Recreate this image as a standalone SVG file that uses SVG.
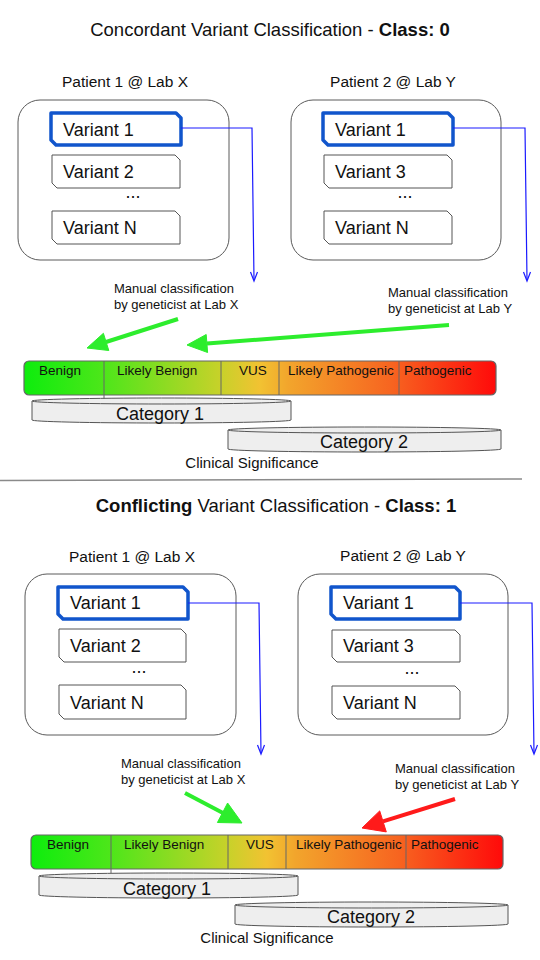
<svg xmlns="http://www.w3.org/2000/svg" width="540" height="960" viewBox="0 0 540 960">
<defs>
<style>
text{font-family:"Liberation Sans",Arial,sans-serif;fill:#111}
.title{font-size:18.5px}
.pat{font-size:15.5px}
.var{font-size:18px}
.man{font-size:13px}
.cls{font-size:13.5px}
.cat{font-size:18px}
.sig{font-size:15px}
.pbox{fill:#fff;stroke:#5a5a5a;stroke-width:1}
.vbox{fill:#fff;stroke:#555;stroke-width:1}
.vsel{fill:#fff;stroke:#1155cc;stroke-width:3.5;stroke-linejoin:round}
.blue{fill:none;stroke:#1a1aff;stroke-width:1.2}
.bar{stroke:#666;stroke-width:1.2}
.div{stroke:#666;stroke-width:1}
.cyl{fill:#eeeeee;stroke:#555;stroke-width:1}
.g{fill:#2ded2d;stroke:#2ded2d}
.r{fill:#ff1a1a;stroke:#ff1a1a}
</style>
<linearGradient id="grad" x1="0" y1="0" x2="1" y2="0">
<stop offset="0" stop-color="#0ded0d"/>
<stop offset="0.17" stop-color="#4ee61a"/>
<stop offset="0.42" stop-color="#c9d12a"/>
<stop offset="0.5" stop-color="#f2c232"/>
<stop offset="0.56" stop-color="#f2a52c"/>
<stop offset="0.78" stop-color="#f76420"/>
<stop offset="1" stop-color="#ff0a0a"/>
</linearGradient>
</defs>

<!-- ===== TOP SECTION ===== -->
<text class="title" x="270" y="36" text-anchor="middle">Concordant Variant Classification - <tspan font-weight="bold">Class: 0</tspan></text>

<g id="patient1-top">
<text class="pat" x="125" y="87" text-anchor="middle">Patient 1 @ Lab X</text>
<rect class="pbox" x="18" y="100" width="211" height="160" rx="22"/>
</g>
<g id="variant1-top-left">
<path class="vsel" d="M51,113 H176 L181,118 V145 H56 L51,140 Z"/>
<text class="var" x="63" y="136">Variant 1</text>
</g>
<g id="variant2-top-left">
<path class="vbox" d="M52,155 H175 L180,160 V188 H57 L52,183 Z"/>
<text class="var" x="63" y="178">Variant 2</text>
</g>
<text class="var" x="133" y="198" text-anchor="middle">...</text>
<g id="variantN-top-left">
<path class="vbox" d="M52,211 H175 L180,216 V244 H57 L52,239 Z"/>
<text class="var" x="63" y="234">Variant N</text>
</g>

<g id="patient2-top">
<text class="pat" x="393" y="87" text-anchor="middle">Patient 2 @ Lab Y</text>
<rect class="pbox" x="291" y="100" width="210" height="160" rx="22"/>
</g>
<g id="variant1-top-right">
<path class="vsel" d="M323,113 H448 L453,118 V145 H328 L323,140 Z"/>
<text class="var" x="335" y="136">Variant 1</text>
</g>
<g id="variant3-top-right">
<path class="vbox" d="M324,155 H447 L452,160 V188 H329 L324,183 Z"/>
<text class="var" x="335" y="178">Variant 3</text>
</g>
<text class="var" x="405" y="198" text-anchor="middle">...</text>
<g id="variantN-top-right">
<path class="vbox" d="M324,211 H447 L452,216 V244 H329 L324,239 Z"/>
<text class="var" x="335" y="234">Variant N</text>
</g>

<g id="labels-top">
<text class="man" x="114" y="293">Manual classification</text>
<text class="man" x="114" y="309">by geneticist at Lab X</text>
<text class="man" x="388" y="297">Manual classification</text>
<text class="man" x="388" y="313">by geneticist at Lab Y</text>
</g>

<g id="bar-top">
<rect class="bar" x="24" y="361" width="472" height="34" rx="5" fill="url(#grad)"/>
<line class="div" x1="104" y1="361" x2="104" y2="399"/>
<line class="div" x1="221" y1="361" x2="221" y2="395"/>
<line class="div" x1="279" y1="361" x2="279" y2="395"/>
<line class="div" x1="399" y1="361" x2="399" y2="395"/>
<text class="cls" x="39" y="375">Benign</text>
<text class="cls" x="117" y="375">Likely Benign</text>
<text class="cls" x="239" y="375">VUS</text>
<text class="cls" x="288" y="375">Likely Pathogenic</text>
<text class="cls" x="404" y="375">Pathogenic</text>
</g>
<g id="category1-top">
<path class="cyl" d="M32,401 A129.5,3 0 0 1 291,401 V420 A129.5,3 0 0 1 32,420 Z"/>
<path class="cyl" fill="none" d="M32,401 A129.5,3 0 0 0 291,401"/>
<text class="cat" x="160" y="420" text-anchor="middle">Category 1</text>
</g>
<g id="category2-top">
<path class="cyl" d="M228,430 A136.5,3 0 0 1 501,430 V449 A136.5,3 0 0 1 228,449 Z"/>
<path class="cyl" fill="none" d="M228,430 A136.5,3 0 0 0 501,430"/>
<text class="cat" x="364" y="448" text-anchor="middle">Category 2</text>
</g>
<text class="sig" x="252" y="468" text-anchor="middle">Clinical Significance</text>

<line x1="0" y1="480.5" x2="522" y2="479" stroke="#8a8a8a" stroke-width="1.5"/>

<!-- ===== BOTTOM SECTION ===== -->
<text class="title" x="276" y="512" text-anchor="middle"><tspan font-weight="bold">Conflicting</tspan> Variant Classification - <tspan font-weight="bold">Class: 1</tspan></text>

<g id="patient1-bottom">
<text class="pat" x="132" y="562" text-anchor="middle">Patient 1 @ Lab X</text>
<rect class="pbox" x="25" y="574" width="211" height="161" rx="22"/>
</g>
<g id="variant1-bottom-left">
<path class="vsel" d="M58,587 H183 L188,592 V619 H63 L58,614 Z"/>
<text class="var" x="70" y="609">Variant 1</text>
</g>
<g id="variant2-bottom-left">
<path class="vbox" d="M59,629 H181 L186,634 V662 H64 L59,657 Z"/>
<text class="var" x="70" y="652">Variant 2</text>
</g>
<text class="var" x="139" y="673" text-anchor="middle">...</text>
<g id="variantN-bottom-left">
<path class="vbox" d="M59,685 H181 L186,690 V719 H64 L59,714 Z"/>
<text class="var" x="70" y="709">Variant N</text>
</g>

<g id="patient2-bottom">
<text class="pat" x="403" y="561" text-anchor="middle">Patient 2 @ Lab Y</text>
<rect class="pbox" x="298" y="574" width="210" height="161" rx="22"/>
</g>
<g id="variant1-bottom-right">
<path class="vsel" d="M331,587 H455 L460,592 V619 H336 L331,614 Z"/>
<text class="var" x="343" y="609">Variant 1</text>
</g>
<g id="variant3-bottom-right">
<path class="vbox" d="M332,630 H455 L460,635 V662 H337 L332,657 Z"/>
<text class="var" x="343" y="652">Variant 3</text>
</g>
<text class="var" x="412" y="674" text-anchor="middle">...</text>
<g id="variantN-bottom-right">
<path class="vbox" d="M332,686 H455 L460,691 V719 H337 L332,714 Z"/>
<text class="var" x="343" y="709">Variant N</text>
</g>

<g id="labels-bottom">
<text class="man" x="121" y="768">Manual classification</text>
<text class="man" x="121" y="784">by geneticist at Lab X</text>
<text class="man" x="395" y="773">Manual classification</text>
<text class="man" x="395" y="789">by geneticist at Lab Y</text>
</g>

<g id="bar-bottom">
<rect class="bar" x="31" y="835" width="472" height="34" rx="5" fill="url(#grad)"/>
<line class="div" x1="111" y1="835" x2="111" y2="873"/>
<line class="div" x1="228" y1="835" x2="228" y2="869"/>
<line class="div" x1="286" y1="835" x2="286" y2="869"/>
<line class="div" x1="406" y1="835" x2="406" y2="869"/>
<text class="cls" x="47" y="849">Benign</text>
<text class="cls" x="124" y="849">Likely Benign</text>
<text class="cls" x="246" y="849">VUS</text>
<text class="cls" x="296" y="849">Likely Pathogenic</text>
<text class="cls" x="411" y="849">Pathogenic</text>
</g>
<g id="category1-bottom">
<path class="cyl" d="M39,876 A129.5,3 0 0 1 298,876 V895 A129.5,3 0 0 1 39,895 Z"/>
<path class="cyl" fill="none" d="M39,876 A129.5,3 0 0 0 298,876"/>
<text class="cat" x="167" y="895" text-anchor="middle">Category 1</text>
</g>
<g id="category2-bottom">
<path class="cyl" d="M235,905 A136.5,3 0 0 1 508,905 V924 A136.5,3 0 0 1 235,924 Z"/>
<path class="cyl" fill="none" d="M235,905 A136.5,3 0 0 0 508,905"/>
<text class="cat" x="371" y="923" text-anchor="middle">Category 2</text>
</g>
<text class="sig" x="267" y="943" text-anchor="middle">Clinical Significance</text>

<!-- ===== CONNECTORS ===== -->
<g id="connectors">
<polyline class="blue" points="181,128 252,128 254,280"/>
<polyline class="blue" points="250.5,272 254,281 257.5,272"/>
<polyline class="blue" points="453,128 525,128 527,280"/>
<polyline class="blue" points="523.5,272 527,281 530.5,272"/>
<polyline class="blue" points="188,603 259,603 261,753"/>
<polyline class="blue" points="257.5,745 261,754 264.5,745"/>
<polyline class="blue" points="460,603 532,603 534,753"/>
<polyline class="blue" points="530.5,745 534,754 537.5,745"/>

<line class="g" x1="178" y1="319" x2="106" y2="342" stroke-width="4"/>
<polygon class="g" stroke-width="1" points="87,348 108.8,350.5 103.4,333.3"/>
<line class="g" x1="449" y1="325" x2="207" y2="343.5" stroke-width="4"/>
<polygon class="g" stroke-width="1" points="187,345 207.6,352.5 206.2,334.5"/>

<line class="g" x1="185" y1="793" x2="223" y2="813" stroke-width="4"/>
<polygon class="g" stroke-width="1" points="242,823 217.4,822.5 227.6,803"/>
<line class="r" x1="455" y1="799" x2="383" y2="821.4" stroke-width="4"/>
<polygon class="r" stroke-width="1" points="362,828 379.7,810.9 386.3,831.9"/>
</g>
</svg>
